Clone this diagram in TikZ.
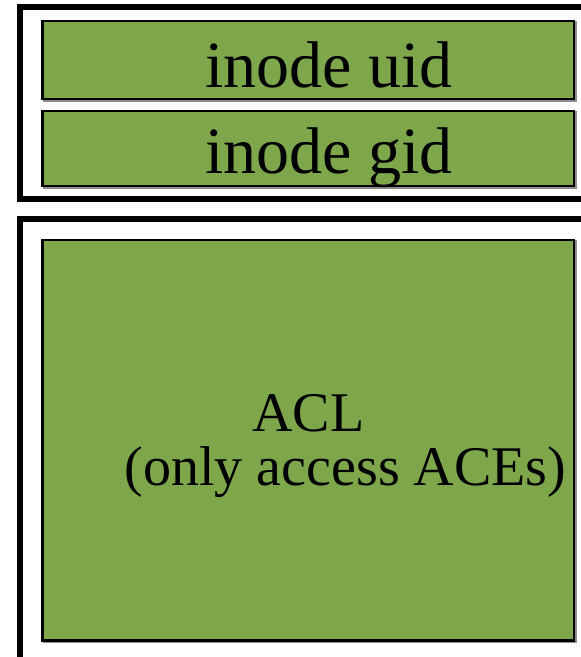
\documentclass[tikz,border=0pt]{standalone}
\usepackage{fontspec}
\setmainfont{Liberation Serif}
\definecolor{boxgreen}{RGB}{126,167,75}
\begin{document}
\begin{tikzpicture}[x=1pt,y=-1pt,
  frame/.style={draw=black,line width=6pt},
  greenbox/.style={draw=black,line width=2.6pt,fill=boxgreen},
  shadowbox/.style={draw=black!45,line width=2.6pt},
  bigtext/.style={font=\fontsize{66}{70}\selectfont,anchor=base,inner sep=0pt},
  acltext/.style={font=\fontsize{56}{54}\selectfont,align=center,inner sep=0pt}]
\useasboundingbox (0,0) rectangle (581,657);
% outer frames
\draw[frame] (590,7) -- (20,7) -- (20,198.5) -- (590,198.5);
\draw[frame] (590,219) -- (20,219) -- (20,660) -- (590,660);
% shadows
\draw[shadowbox] (44,22.5) rectangle (575.5,100.5);
\draw[shadowbox] (44,112.5) rectangle (575.5,187.5);
\draw[shadowbox] (44,241.5) rectangle (575.5,642);
% green boxes
\draw[greenbox] (42.5,21) rectangle (574,99);
\draw[greenbox] (42.5,111) rectangle (574,186);
\draw[greenbox] (42.5,240) rectangle (574,640.5);
% texts
\node[bigtext] (uid) at (329,87) {inode uid};
\node[bigtext] (gid) at (329,173) {inode gid};
\node[acltext] (acl) at (308.5,446) {ACL\\\hspace*{74pt}(only access ACEs)};
\end{tikzpicture}
\end{document}
